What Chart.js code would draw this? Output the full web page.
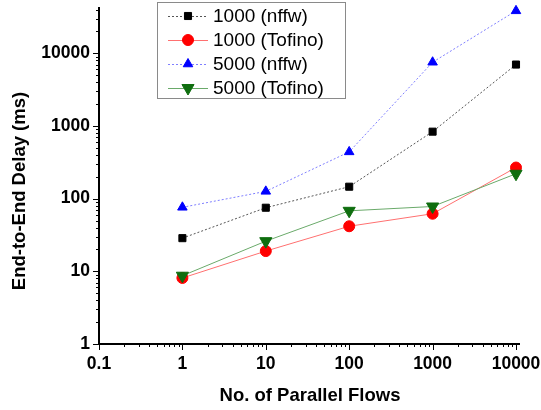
<!DOCTYPE html>
<html>
<head>
<meta charset="utf-8">
<script src="https://cdn.jsdelivr.net/npm/chart.js@4.4.1/dist/chart.umd.min.js"></script>
<style>
  html, body { margin: 0; padding: 0; background: #fff; }
  #wrap { width: 541px; height: 410px; }
</style>
</head>
<body>
<div id="wrap"><canvas id="c" width="541" height="410"></canvas></div>
<script>
// data
const flows = [1, 10, 100, 1000, 10000];
const nffw1000 = [28.6, 75, 146, 835, 7000];
const tofino1000 = [8.1, 19, 41.7, 62, 268];
const nffw5000 = [76, 126, 440, 7530, 38400];
const tofino5000 = [8.7, 26, 68, 78, 220];
const seriesNames = ['1000 (nffw)', '1000 (Tofino)', '5000 (nffw)', '5000 (Tofino)'];
const xTicks = [0.1, 1, 10, 100, 1000, 10000];
const yTicks = [1, 10, 100, 1000, 10000];

const FONT = '"Liberation Sans", Arial, sans-serif';

function pts(ys) {
    return flows.map(function (f, i) { return { x: f, y: ys[i] }; });
}

// tick marks, axis titles and the boxed legend
const decor = {
    id: 'decor',
    afterDraw(chart) {
        const ctx = chart.ctx;
        const xs = chart.scales.x, ys = chart.scales.y;
        const area = chart.chartArea;
        ctx.save();
        ctx.strokeStyle = '#000';
        // x axis runs a little past the last decade
        ctx.lineWidth = 2;
        ctx.beginPath();
        ctx.moveTo(area.right - 1, area.bottom);
        ctx.lineTo(area.right + 4, area.bottom);
        ctx.stroke();
        ctx.lineWidth = 1;
        for (let e = -1; e <= 4; e++) {
            for (let m = 1; m <= 9; m++) {
                const v = m * Math.pow(10, e);
                const len = m === 1 ? 6 : 3;
                if (v >= xs.min - 1e-9 && v <= xs.max + 1e-9) {
                    const px = Math.round(xs.getPixelForValue(v)) + 0.5;
                    ctx.beginPath();
                    ctx.moveTo(px, area.bottom);
                    ctx.lineTo(px, area.bottom + len);
                    ctx.stroke();
                }
                if (v >= ys.min - 1e-9 && v <= ys.max + 1e-9) {
                    const py = Math.round(ys.getPixelForValue(v)) + 0.5;
                    ctx.beginPath();
                    ctx.moveTo(area.left, py);
                    ctx.lineTo(area.left - len, py);
                    ctx.stroke();
                }
            }
        }

        // axis titles
        ctx.fillStyle = '#000';
        ctx.font = 'bold 18.5px ' + FONT;
        ctx.textAlign = 'center';
        ctx.textBaseline = 'middle';
        ctx.fillText('No. of Parallel Flows', 310, 396);
        ctx.save();
        ctx.translate(19.5, 191);
        ctx.rotate(-Math.PI / 2);
        ctx.fillText('End-to-End Delay (ms)', 0, 0);
        ctx.restore();

        // legend
        ctx.fillStyle = '#fff';
        ctx.fillRect(157, 2, 188, 96);
        ctx.strokeStyle = '#8a8a8a';
        ctx.lineWidth = 1;
        ctx.strokeRect(157.5, 2.5, 188, 96);
        ctx.font = '19px ' + FONT;
        ctx.textAlign = 'left';
        chart.data.datasets.forEach(function (ds, i) {
            const y = 16 + i * 24;
            ctx.save();
            ctx.strokeStyle = ds.borderColor;
            ctx.lineWidth = ds.borderWidth;
            ctx.setLineDash(ds.borderDash || []);
            ctx.beginPath();
            ctx.moveTo(168, y + 0.5);
            ctx.lineTo(208, y + 0.5);
            ctx.stroke();
            ctx.restore();
            ctx.fillStyle = ds.pointBackgroundColor;
            ctx.strokeStyle = ds.pointBorderColor;
            Chart.helpers.drawPoint(ctx, {
                pointStyle: ds.pointStyle,
                radius: ds.pointRadius,
                rotation: ds.pointRotation || 0,
                borderWidth: 1
            }, 188, y);
            ctx.fillStyle = '#000';
            ctx.fillText(ds.label, 213, y + 1);
        });
        ctx.restore();
    }
};

new Chart(document.getElementById('c'), {
    type: 'line',
    data: {
        datasets: [{
            label: seriesNames[0],
            data: pts(nffw1000),
            borderColor: '#555',
            borderWidth: 1,
            borderDash: [2, 2],
            pointStyle: 'rect',
            pointRadius: 5,
            pointBackgroundColor: '#000',
            pointBorderColor: '#000',
            order: 4
        }, {
            label: seriesNames[1],
            data: pts(tofino1000),
            borderColor: '#ff7070',
            borderWidth: 1,
            pointStyle: 'circle',
            pointRadius: 5.5,
            pointBackgroundColor: '#ff0000',
            pointBorderColor: '#ff0000',
            order: 3
        }, {
            label: seriesNames[2],
            data: pts(nffw5000),
            borderColor: '#7f7fff',
            borderWidth: 1,
            borderDash: [2, 2],
            pointStyle: 'triangle',
            pointRadius: 5.5,
            pointBackgroundColor: '#0000ff',
            pointBorderColor: '#0000ff',
            order: 2
        }, {
            label: seriesNames[3],
            data: pts(tofino5000),
            borderColor: '#6aaa6a',
            borderWidth: 1,
            pointStyle: 'triangle',
            pointRotation: 180,
            pointRadius: 7,
            pointBackgroundColor: '#0f6e0f',
            pointBorderColor: '#0f6e0f',
            order: 1
        }]
    },
    options: {
        responsive: false,
        animation: false,
        devicePixelRatio: 1,
        clip: false,
        layout: { padding: { left: 0, right: 25, top: 6, bottom: 0 } },
        elements: { line: { tension: 0 } },
        plugins: { legend: { display: false }, tooltip: { enabled: false } },
        scales: {
            x: {
                type: 'logarithmic',
                min: 0.1,
                max: 10000,
                afterBuildTicks: function (s) { s.ticks = xTicks.map(function (v) { return { value: v }; }); },
                afterFit: function (s) { s.height = 66; s.paddingLeft = 0; s.paddingRight = 0; },
                grid: { display: false, drawTicks: false },
                border: { display: true, color: '#000', width: 2 },
                ticks: {
                    autoSkip: false,
                    maxRotation: 0,
                    padding: 10,
                    color: '#000',
                    font: { family: FONT, size: 17.5, weight: 'bold' },
                    callback: function (v) { return String(v); }
                }
            },
            y: {
                type: 'logarithmic',
                min: 1,
                max: 42000,
                afterBuildTicks: function (s) { s.ticks = yTicks.map(function (v) { return { value: v }; }); },
                afterFit: function (s) { s.width = 99; s.paddingTop = 0; s.paddingBottom = 0; },
                grid: { display: false, drawTicks: false },
                border: { display: true, color: '#000', width: 2 },
                ticks: {
                    autoSkip: false,
                    padding: 9,
                    color: '#000',
                    font: { family: FONT, size: 17.5, weight: 'bold' },
                    callback: function (v) { return String(v); }
                }
            }
        }
    },
    plugins: [decor]
});
</script>
</body>
</html>
